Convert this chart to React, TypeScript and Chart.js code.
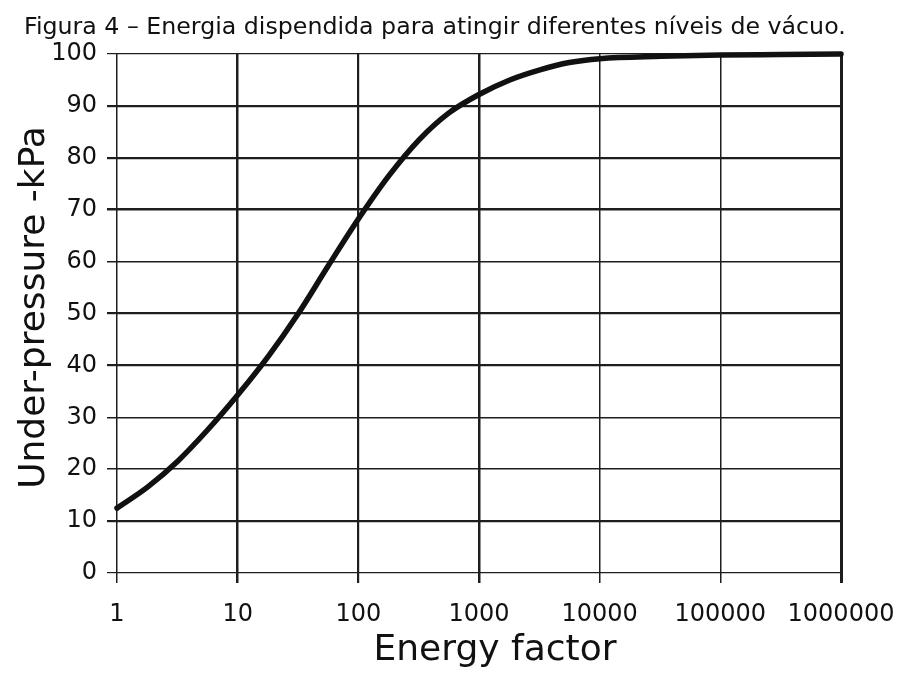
import { useEffect, useRef } from 'react';
import { Chart, registerables } from 'chart.js';

Chart.register(...registerables);

const chartTitle = 'Figura 4 – Energia dispendida para atingir diferentes níveis de vácuo.';
const xAxisTitle = 'Energy factor';
const yAxisTitle = 'Under-pressure -kPa';

const energyFactor = [1, 1.8, 3.2, 5.6, 10, 18, 32, 56, 100, 180, 320, 560, 1000, 1800, 3200, 5600, 10000, 32000, 100000, 316000, 1000000];
const underPressure = [12.5, 16.6, 21.6, 27.5, 34.3, 41.8, 50.1, 59.1, 68.2, 76.6, 83.5, 88.6, 92.2, 95.0, 96.95, 98.35, 99.1, 99.55, 99.8, 99.9, 100];

const xTickValues = [1, 10, 100, 1000, 10000, 100000, 1000000];
const yTickValues = [0, 10, 20, 30, 40, 50, 60, 70, 80, 90, 100];

// styling (grid line weights as seen in the scanned figure)
const xGridWidths = [1.5, 2.5, 2.2, 2.5, 1.5, 1.5, 3];
const yGridWidths = [1.2, 2.2, 1.5, 1.5, 2.2, 2.2, 1.5, 2.5, 2.2, 2.2, 1.2];

const FONT = '"DejaVu Sans", "Liberation Sans", sans-serif';

const textPlugin = {
  id: 'figureTexts',
  afterDraw(chart: any) {
    const { ctx, chartArea } = chart;
    ctx.save();
    ctx.fillStyle = '#111';
    ctx.textBaseline = 'alphabetic';
    ctx.font = `23.7px ${FONT}`;
    ctx.textAlign = 'left';
    ctx.fillText(chartTitle, 24, 34);
    ctx.font = `36px ${FONT}`;
    ctx.textAlign = 'center';
    ctx.fillText(xAxisTitle, (chartArea.left + chartArea.right) / 2 + 16, 660);
    ctx.translate(44, (chartArea.top + chartArea.bottom) / 2 - 6);
    ctx.rotate(-Math.PI / 2);
    ctx.fillText(yAxisTitle, 0, 0);
    ctx.restore();
  },
};

export default function App() {
  const ref = useRef<HTMLCanvasElement>(null);

  useEffect(() => {
    if (!ref.current) return;
    const chart = new Chart(ref.current, {
      type: 'line',
      data: {
        datasets: [
          {
            data: energyFactor.map((x, i) => ({ x, y: underPressure[i] })),
            borderColor: '#111',
            borderWidth: 5.5,
            pointRadius: 0,
            cubicInterpolationMode: 'monotone',
            borderCapStyle: 'round',
            borderJoinStyle: 'round',
            clip: false as any,
          },
        ],
      },
      options: {
        animation: false,
        responsive: false,
        events: [],
        layout: { padding: { top: 54, right: 56, bottom: 0, left: 0 } },
        plugins: {
          legend: { display: false },
          tooltip: { enabled: false },
          title: { display: false },
        },
        scales: {
          x: {
            type: 'logarithmic',
            min: 1,
            max: 1000000,
            afterBuildTicks: (scale: any) => {
              scale.ticks = xTickValues.map((v) => ({ value: v }));
            },
            afterFit: (scale: any) => {
              scale.height = 100;
              scale.paddingLeft = 0;
              scale.paddingRight = 0;
            },
            border: { display: false },
            grid: {
              color: '#1e1e1e',
              lineWidth: (c: any) => xGridWidths[c.index] ?? 1.5,
              tickLength: 10,
            },
            ticks: {
              autoSkip: false,
              maxRotation: 0,
              padding: 17,
              color: '#111',
              font: { family: FONT, size: 24 },
              callback: (v: any) => String(v),
            },
          },
          y: {
            type: 'linear',
            min: 0,
            max: 100,
            afterBuildTicks: (scale: any) => {
              scale.ticks = yTickValues.map((v) => ({ value: v }));
            },
            afterFit: (scale: any) => {
              scale.width = 117;
              scale.paddingTop = 0;
              scale.paddingBottom = 0;
            },
            border: { display: false },
            grid: {
              color: '#1e1e1e',
              lineWidth: (c: any) => yGridWidths[c.index] ?? 1.5,
              tickLength: 10,
            },
            ticks: {
              padding: 10,
              color: '#111',
              font: { family: FONT, size: 24 },
            },
          },
        },
      },
      plugins: [textPlugin],
    } as any);
    return () => chart.destroy();
  }, []);

  return (
    <div style={{ position: 'fixed', left: 0, top: 0, width: 897, height: 673, background: '#fff' }}>
      <canvas ref={ref} width={897} height={673} style={{ width: 897, height: 673, display: 'block' }} />
    </div>
  );
}
